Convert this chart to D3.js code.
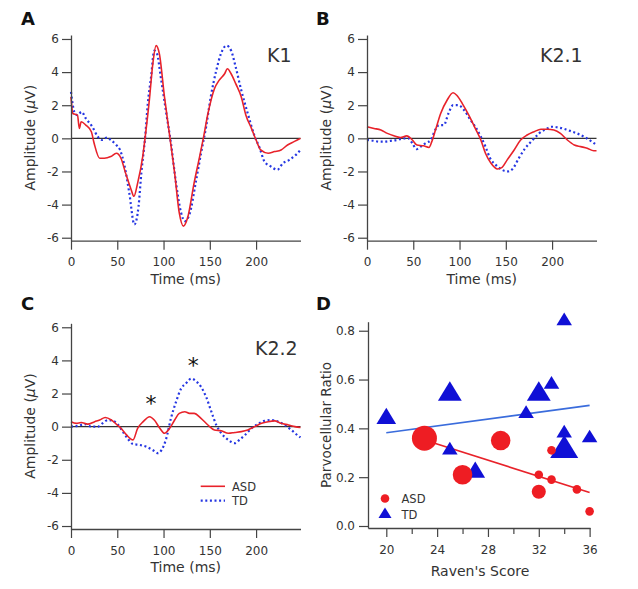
<!DOCTYPE html>
<html><head><meta charset="utf-8">
<script src="https://cdn.jsdelivr.net/npm/d3@7"></script>
<style>
body{margin:0;background:#fff}
svg{display:block}
text{font-family:"DejaVu Sans",sans-serif}
</style></head>
<body><svg id="c" width="638" height="589"></svg>
<script>
// ---------------- DATA ----------------
const timeTicks = [0, 50, 100, 150, 200];
const ampTicks = [-6, -4, -2, 0, 2, 4, 6];
const groups = ["ASD", "TD"];
const kernels = ["K1", "K2.1", "K2.2"];
const panelLetters = ["A", "B", "C", "D"];

// [time (ms), amplitude (µV)]
const k1ASD = [[0,2.5],[2,1.5],[7,1.4],[9,0.6],[11,1.0],[16,0.8],[22,0.4],[25,-0.3],[31,-1.2],[36,-1.2],[43,-1.1],[49,-0.9],[54,-1.2],[59,-2.1],[65,-3.1],[68,-3.5],[72,-2.7],[77.5,-1.1],[80,0],[85,2.5],[88,4.3],[92,5.6],[95.5,5.1],[101,2.5],[107,0],[112,-2.1],[117,-4.5],[121.5,-5.3],[126,-4.8],[133,-2.7],[139,-1.1],[143,0],[148,1.5],[155,3.0],[160,3.5],[166,3.9],[169,4.2],[173,3.9],[178,3.3],[184,2.5],[189,1.4],[195,0.6],[200,-0.1],[205,-0.7],[213,-0.9],[220,-0.8],[227,-0.7],[234,-0.4],[241,-0.2],[248,0]];
const k1TD = [[0,2.8],[3.6,1.6],[7,1.4],[11.5,1.6],[16,1.2],[23,0.7],[29,0.1],[34,-0.1],[39,0.05],[43,-0.1],[49,-0.4],[53,-0.7],[58,-1.7],[63,-3.3],[68.5,-5.2],[73,-4.1],[76,-2.1],[80,0],[83,2.1],[86.5,3.7],[90,5.3],[93,5.1],[97,3.7],[103,1.5],[108,-0.3],[113.5,-2.7],[119,-4.5],[123,-5.0],[128,-4.6],[135,-2.6],[140.5,-0.9],[146,0.7],[151,2.5],[157,4.1],[162,5.1],[168,5.6],[173,5.3],[178,4.3],[184,2.9],[191,1.5],[198,0.2],[204,-0.6],[209,-1.4],[216,-1.7],[223,-1.9],[229,-1.5],[236,-1.3],[243,-1.0],[248,-0.7]];

const k21ASD = [[0,0.7],[7.6,0.6],[15,0.5],[22,0.3],[29,0.15],[36,0.05],[43,0.15],[49,-0.1],[54,-0.4],[61,-0.45],[67,-0.55],[70,-0.2],[74,0.5],[79.6,1.5],[86.5,2.3],[93,2.75],[97,2.6],[103,2.1],[110,1.4],[117,0.6],[123,-0.1],[128,-0.9],[134,-1.5],[141,-1.85],[146,-1.75],[151.5,-1.3],[159,-0.7],[166,-0.1],[173,0.2],[180.5,0.4],[188,0.55],[195,0.55],[202,0.5],[209,0.3],[216.5,-0.1],[224,-0.4],[231,-0.5],[238,-0.6],[245,-0.75],[248,-0.75]];
const k21TD = [[0,-0.1],[7.6,-0.15],[13,-0.2],[18,-0.2],[25.6,-0.15],[32,-0.1],[40,0],[45,0],[49,-0.3],[53.7,-0.65],[58,-0.5],[63,-0.3],[69,-0.1],[72,0.3],[78,0.8],[83,0.8],[88,1.5],[93,2.0],[99,2.0],[105,1.7],[112,1.1],[117,0.7],[123,0.1],[128,-0.5],[133,-1.2],[139,-1.6],[146,-1.9],[152,-2.0],[158,-1.8],[164,-1.2],[171,-0.6],[179,-0.1],[186,0.3],[193,0.55],[200,0.7],[207.5,0.65],[214.4,0.55],[222,0.4],[229,0.25],[236,0.05],[243,-0.2],[248,-0.4]];

const k22ASD = [[0,0.3],[5.8,0.2],[11,0.25],[18,0.15],[25.6,0.3],[31,0.4],[37,0.55],[43.6,0.4],[49,0.15],[54,-0.1],[60,-0.5],[67,-0.8],[72,-0.1],[78,0.3],[85,0.6],[90,0.4],[96,-0.1],[101,-0.4],[106.6,-0.1],[112,0.4],[117,0.8],[123,0.9],[128,0.8],[133,0.8],[140.5,0.5],[148,0.1],[155,-0.2],[162.5,-0.25],[170,-0.4],[177,-0.35],[184,-0.3],[191,-0.2],[198.5,0],[206,0.2],[213,0.3],[220,0.35],[227,0.2],[235,0.1],[242,0],[248,-0.05]];
const k22TD = [[0,0],[7.6,0.05],[15,0.15],[22,0],[29,0],[34,0.2],[40,0.4],[45.4,0.35],[51,0.1],[56,-0.3],[61,-0.7],[67,-1.05],[74,-1.1],[81,-1.2],[88,-1.4],[94,-1.6],[98,-1.4],[103,-0.7],[108,0.5],[113.5,1.5],[119,2.3],[124,2.6],[130,2.9],[135,2.75],[140.5,2.4],[146,1.8],[151.7,0.9],[157,0.1],[162.5,-0.4],[170,-0.8],[177,-1.0],[182,-0.8],[188,-0.5],[195,-0.1],[202,0.15],[209,0.35],[216,0.4],[224,0.3],[231,0.1],[238,-0.2],[245.5,-0.55],[248,-0.65]];

// significance markers in K2.2 panel: [time, amplitude]
const starMarks = [[86.5, 1.7], [132, 4.0]];

// Panel D
const ravenTicks = [20, 22, 24, 26, 28, 30, 32, 34, 36];
const ravenLabeled = [20, 24, 28, 32, 36];
const ratioTicks = [0, 0.2, 0.4, 0.6, 0.8];
const asdRaven = [23, 29, 26, 33, 32, 33, 32, 35, 36];
const asdRatio = [0.36, 0.35, 0.21, 0.31, 0.21, 0.19, 0.14, 0.15, 0.06];
const asdCount = [4, 3, 3, 1, 1, 1, 2, 1, 1];
const tdRaven = [20, 25, 25, 27, 31, 32, 33, 34, 34, 34, 36];
const tdRatio = [0.44, 0.54, 0.31, 0.22, 0.46, 0.54, 0.58, 0.84, 0.38, 0.31, 0.36];
const tdCount = [2, 3, 1, 2, 1, 3, 1, 1, 1, 4, 1];

// ---------------- DRAW ----------------
const RED = "#e8222a", BLUE_DOT = "#2536e2", BLUE_MK = "#1010d6", BLUE_FIT = "#3a6cdc";
const AXIS = "#444", TXT = "#333";
const svg = d3.select("#c");

function styleAxis(g) {
  g.select(".domain").attr("stroke", AXIS).attr("stroke-width", 1.3);
  g.selectAll(".tick line").attr("stroke", AXIS).attr("stroke-width", 1.2);
  g.selectAll(".tick text").attr("fill", TXT).attr("font-size", 12).attr("font-family", '"DejaVu Sans",sans-serif');
}

function yTitle(g, x, y, parts, size) {
  const t = g.append("text").attr("transform", `translate(${x},${y}) rotate(-90)`)
    .attr("text-anchor", "middle").attr("fill", TXT).attr("font-size", size);
  parts.forEach(p => t.append("tspan").attr("font-style", p.it ? "italic" : null).text(p.s));
}

function wavePanel(left, bottom, asd, td, kname, kx, ky) {
  const g = svg.append("g");
  const x = d3.scaleLinear().domain([0, 248]).range([left, left + 229.5]);
  const y = d3.scaleLinear().domain([-6.18, 6.24]).range([bottom, bottom - 205.7]);
  g.append("line").attr("x1", x(0)).attr("x2", x(248)).attr("y1", y(0)).attr("y2", y(0))
    .attr("stroke", "#333").attr("stroke-width", 1.3);
  const line = d3.line().x(d => x(d[0])).y(d => y(d[1])).curve(d3.curveMonotoneX);
  g.append("path").datum(td).attr("d", line).attr("fill", "none").attr("stroke", BLUE_DOT)
    .attr("stroke-width", 2.2).attr("stroke-dasharray", "2,2.6");
  g.append("path").datum(asd).attr("d", line).attr("fill", "none").attr("stroke", RED)
    .attr("stroke-width", 1.6);
  const ax = g.append("g").attr("transform", `translate(0,${bottom})`)
    .call(d3.axisBottom(x).tickValues(timeTicks).tickSize(9).tickSizeOuter(0).tickPadding(8).tickFormat(d => String(d)));
  styleAxis(ax);
  const ay = g.append("g").attr("transform", `translate(${left},0)`)
    .call(d3.axisLeft(y).tickValues(ampTicks).tickSize(9).tickSizeOuter(0).tickPadding(3).tickFormat(d => String(d)));
  styleAxis(ay);
  g.append("text").attr("x", (x(0) + x(248)) / 2).attr("y", bottom + 43).attr("text-anchor", "middle")
    .attr("fill", TXT).attr("font-size", 14).text("Time (ms)");
  yTitle(g, left - 36, bottom - 103, [{s: "Amplitude ("}, {s: "\u03bc", it: true}, {s: "V)"}], 14);
  g.append("text").attr("x", kx).attr("y", ky).attr("fill", TXT).attr("font-size", 19).text(kname);
  return {g, x, y};
}

const pA = wavePanel(71, 240.7, k1ASD, k1TD, kernels[0], 267, 62);
const pB = wavePanel(367, 240.7, k21ASD, k21TD, kernels[1], 540, 62);
const pC = wavePanel(71, 529, k22ASD, k22TD, kernels[2], 255, 354.5);

// stars
pC.g.selectAll("text.star").data(starMarks).join("text").attr("class", "star")
  .attr("x", d => pC.x(d[0])).attr("y", d => pC.y(d[1]) + 12.5).attr("text-anchor", "middle")
  .attr("font-size", 22).attr("fill", "#111").text("*");

// legend in C
const legC = pC.g.append("g");
[{n: groups[0], c: RED, w: 1.6, da: null, y: 486.3}, {n: groups[1], c: BLUE_DOT, w: 2.2, da: "2,2.6", y: 500.7}].forEach(it => {
  legC.append("line").attr("x1", 200.7).attr("x2", 225).attr("y1", it.y).attr("y2", it.y)
    .attr("stroke", it.c).attr("stroke-width", it.w).attr("stroke-dasharray", it.da);
  legC.append("text").attr("x", 232).attr("y", it.y + 4.3).attr("font-size", 11.5).attr("fill", TXT).text(it.n);
});

// ---------------- Panel D ----------------
const gD = svg.append("g");
const xs = d3.scaleLinear().domain([18.56, 36.03]).range([368, 590]);
const ys = d3.scaleLinear().domain([-0.0082, 0.837]).range([528, 321.7]);

const axD = gD.append("g").attr("transform", "translate(0,528)")
  .call(d3.axisBottom(xs).tickValues(ravenTicks).tickSize(9).tickSizeOuter(0).tickPadding(8)
    .tickFormat(d => ravenLabeled.includes(d) ? String(d) : ""));
styleAxis(axD);
axD.selectAll(".tick").filter(d => !ravenLabeled.includes(d)).select("line").attr("y2", 6);
const ayD = gD.append("g").attr("transform", "translate(368,0)")
  .call(d3.axisLeft(ys).tickValues(ratioTicks).tickSize(9).tickSizeOuter(0).tickPadding(4).tickFormat(d3.format(".1f")));
styleAxis(ayD);
gD.append("text").attr("x", 480).attr("y", 576).attr("text-anchor", "middle").attr("fill", TXT)
  .attr("font-size", 14).text("Raven's Score");
yTitle(gD, 331, 425, [{s: "Parvocellular Ratio"}], 13.5);

function fit(xv, yv) {
  const mx = d3.mean(xv), my = d3.mean(yv);
  let sxy = 0, sxx = 0;
  xv.forEach((v, i) => { sxy += (v - mx) * (yv[i] - my); sxx += (v - mx) * (v - mx); });
  const b = sxy / sxx, a = my - b * mx;
  const [x0, x1] = d3.extent(xv);
  return [[x0, a + b * x0], [x1, a + b * x1]];
}
const fitLine = d3.line().x(d => xs(d[0])).y(d => ys(d[1]));
gD.append("path").attr("d", fitLine(fit(tdRaven, tdRatio))).attr("stroke", BLUE_FIT).attr("stroke-width", 1.6).attr("fill", "none");
gD.append("path").attr("d", fitLine(fit(asdRaven, asdRatio))).attr("stroke", RED).attr("stroke-width", 1.6).attr("fill", "none");

const triW = d3.scaleLinear().domain([1, 4]).range([15.5, 28]);
const cirR = d3.scaleLinear().domain([1, 4]).range([4.3, 12.5]);
function triPath(w) {
  const h = w * 0.82;
  return `M0,${-h * 2 / 3}L${w / 2},${h / 3}L${-w / 2},${h / 3}Z`;
}
const tdData = tdRaven.map((v, i) => ({x: v, y: tdRatio[i], n: tdCount[i]}));
const asdData = asdRaven.map((v, i) => ({x: v, y: asdRatio[i], n: asdCount[i]}));
gD.selectAll("path.tri").data(tdData).join("path").attr("class", "tri")
  .attr("transform", d => `translate(${xs(d.x)},${ys(d.y)})`).attr("d", d => triPath(triW(d.n))).attr("fill", BLUE_MK);
gD.selectAll("circle.pt").data(asdData).join("circle").attr("class", "pt")
  .attr("cx", d => xs(d.x)).attr("cy", d => ys(d.y)).attr("r", d => cirR(d.n)).attr("fill", "#ee1d23");

// legend D
gD.append("circle").attr("cx", 385).attr("cy", 498.5).attr("r", 4.3).attr("fill", "#ee1d23");
gD.append("text").attr("x", 401.5).attr("y", 503.2).attr("font-size", 11.5).attr("fill", TXT).text(groups[0]);
gD.append("path").attr("transform", "translate(385,514.5)").attr("d", triPath(13)).attr("fill", BLUE_MK);
gD.append("text").attr("x", 401.5).attr("y", 518.5).attr("font-size", 11.5).attr("fill", TXT).text(groups[1]);

// panel letters
[[21, 25], [316, 25], [21, 310], [316, 310]].forEach((p, i) => {
  svg.append("text").attr("x", p[0]).attr("y", p[1]).attr("font-family", '"Liberation Sans",Arial,sans-serif')
    .attr("font-weight", "bold").attr("font-size", 18).attr("fill", "#111").text(panelLetters[i]);
});
</script>
</body></html>
